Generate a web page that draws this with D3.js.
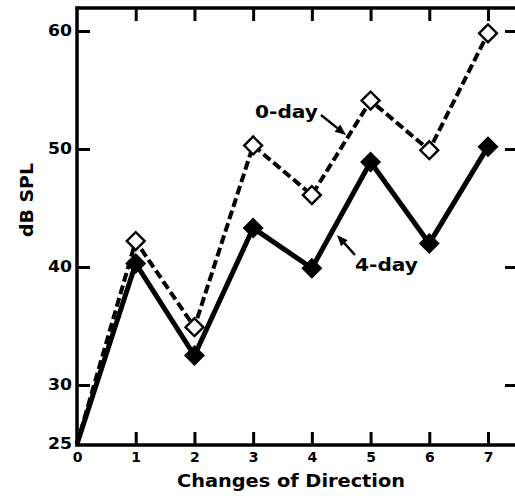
<!DOCTYPE html>
<html>
<head>
<meta charset="utf-8">
<script src="https://cdn.jsdelivr.net/npm/d3@7"></script>
<style>
  html, body { margin: 0; padding: 0; background: #fff; }
  svg { display: block; }
  text { font-family: "DejaVu Sans", "Liberation Sans", sans-serif; font-weight: bold; fill: #000; }
</style>
</head>
<body>
<svg id="chart" width="515" height="498"></svg>
<script>
// ---- data ----
const changes = [0, 1, 2, 3, 4, 5, 6, 7];
const day0 = [25, 42.2, 34.9, 50.3, 46.1, 54.1, 49.9, 59.8];
const day4 = [25, 40.3, 32.5, 43.3, 39.9, 48.9, 42.0, 50.2];
const yTickValues = [25, 30, 40, 50, 60];
const xTickValues = [0, 1, 2, 3, 4, 5, 6, 7];
const xTitle = "Changes of Direction";
const yTitle = "dB SPL";
const label0 = "0-day";
const label4 = "4-day";

// ---- layout ----
const svg = d3.select("#chart");
const fLeft = 77, fRight = 515, fTop = 8, fBottom = 445;
const x = d3.scaleLinear().domain([0, 7]).range([77, 488]);
const y = d3.scaleLinear().domain([25, 60]).range([444, 31]);

// frame
const frame = svg.append("g").attr("stroke", "#000").attr("stroke-width", 3.5).attr("fill", "none");
frame.append("line").attr("x1", fLeft).attr("x2", fLeft).attr("y1", fTop - 1.5).attr("y2", fBottom + 1.5);
frame.append("line").attr("x1", fLeft - 1.5).attr("x2", fRight).attr("y1", fTop).attr("y2", fTop);
frame.append("line").attr("x1", fLeft - 1.5).attr("x2", fRight).attr("y1", fBottom).attr("y2", fBottom);

function styleAxis(g) {
  g.select(".domain").remove();
  g.selectAll(".tick line").attr("stroke", "#000").attr("stroke-width", 3);
  g.selectAll(".tick text").attr("font-family", "DejaVu Sans, sans-serif").attr("font-weight", "bold").attr("fill", "#000");
}

// bottom axis
svg.append("g").attr("transform", `translate(0,${fBottom})`)
  .call(d3.axisBottom(x).tickValues(xTickValues).tickSize(-13).tickSizeOuter(0).tickPadding(7).tickFormat(d3.format("d")))
  .call(styleAxis)
  .call(g => g.selectAll(".tick text").attr("font-size", 14))
  .call(g => g.selectAll(".tick").filter(d => d === 0).select("line").remove());

// top axis (ticks only)
svg.append("g").attr("transform", `translate(0,${fTop})`)
  .call(d3.axisTop(x).tickValues(xTickValues.filter(d => d > 0)).tickSize(-13).tickSizeOuter(0).tickFormat(""))
  .call(styleAxis);

// left axis
svg.append("g").attr("transform", `translate(${fLeft},0)`)
  .call(d3.axisLeft(y).tickValues(yTickValues).tickSize(-13).tickSizeOuter(0).tickPadding(5).tickFormat(d3.format("d")))
  .call(styleAxis)
  .call(g => g.selectAll(".tick text").attr("font-size", 15).attr("textLength", 24).attr("lengthAdjust", "spacingAndGlyphs"))
  .call(g => g.selectAll(".tick").filter(d => d === 25).select("line").remove());

// right axis (ticks only)
svg.append("g").attr("transform", `translate(${fRight},0)`)
  .call(d3.axisRight(y).tickValues(yTickValues.filter(d => d > 25)).tickSize(-10).tickSizeOuter(0).tickFormat(""))
  .call(styleAxis);

// lines
const line = d3.line().x((d, i) => x(changes[i])).y(d => y(d));
svg.append("path").datum(day0).attr("d", line)
  .attr("fill", "none").attr("stroke", "#000").attr("stroke-width", 4)
  .attr("stroke-dasharray", "9,4");
svg.append("path").datum(day4).attr("d", line)
  .attr("fill", "none").attr("stroke", "#000").attr("stroke-width", 5)
  .attr("stroke-linejoin", "miter");

// markers
const sqOpen = d3.symbol().type(d3.symbolSquare).size(160);
const sqFill = d3.symbol().type(d3.symbolSquare).size(220);
svg.append("g").selectAll("path").data(day4.slice(1)).join("path")
  .attr("d", sqFill)
  .attr("transform", (d, i) => `translate(${x(changes[i + 1])},${y(d)}) rotate(45)`)
  .attr("fill", "#000");
svg.append("g").selectAll("path").data(day0.slice(1)).join("path")
  .attr("d", sqOpen)
  .attr("transform", (d, i) => `translate(${x(changes[i + 1])},${y(d)}) rotate(45)`)
  .attr("fill", "#fff").attr("stroke", "#000").attr("stroke-width", 2.4);

// annotations
svg.append("text").attr("x", 255).attr("y", 118).attr("font-size", 17)
  .attr("textLength", 63).attr("lengthAdjust", "spacingAndGlyphs").text(label0);
svg.append("text").attr("x", 355).attr("y", 271).attr("font-size", 17)
  .attr("textLength", 63).attr("lengthAdjust", "spacingAndGlyphs").text(label4);

function arrow(x1, y1, x2, y2) {
  const ang = Math.atan2(y2 - y1, x2 - x1);
  const hl = 11, hw = 4.5;
  const bx = x2 - hl * Math.cos(ang), by = y2 - hl * Math.sin(ang);
  svg.append("line").attr("x1", x1).attr("y1", y1).attr("x2", bx).attr("y2", by)
    .attr("stroke", "#000").attr("stroke-width", 2.5);
  const px = -Math.sin(ang) * hw, py = Math.cos(ang) * hw;
  svg.append("path")
    .attr("d", `M${x2},${y2}L${bx + px},${by + py}L${bx - px},${by - py}Z`)
    .attr("fill", "#000");
}
arrow(321, 115, 346, 135);
arrow(355, 255, 337, 235);

// axis titles
svg.append("text").attr("x", 291).attr("y", 487).attr("text-anchor", "middle")
  .attr("font-size", 18).attr("textLength", 228).attr("lengthAdjust", "spacingAndGlyphs").text(xTitle);
svg.append("text").attr("transform", "translate(33,200) rotate(-90)").attr("text-anchor", "middle")
  .attr("font-size", 17).attr("textLength", 74).attr("lengthAdjust", "spacingAndGlyphs").text(yTitle);
</script>
</body>
</html>
